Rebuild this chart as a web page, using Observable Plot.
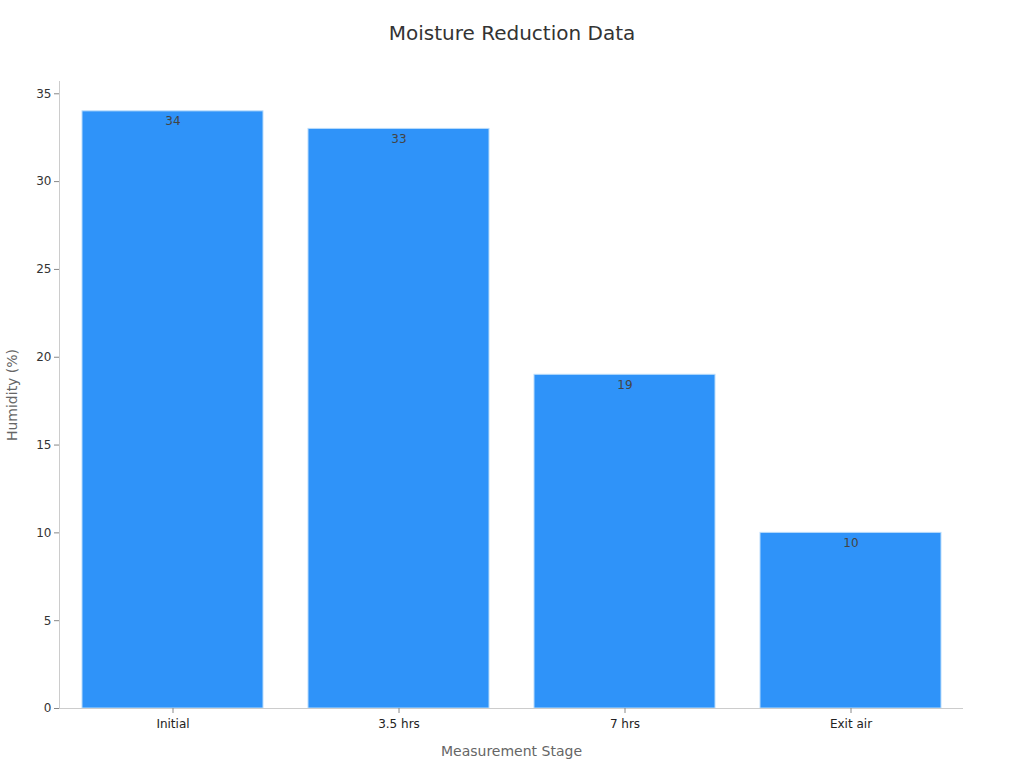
<!DOCTYPE html>
<html>
<head>
<meta charset="utf-8">
<script src="https://cdn.jsdelivr.net/npm/d3@7"></script>
<script src="https://cdn.jsdelivr.net/npm/@observablehq/plot@0.6"></script>
<style>
  html, body { margin: 0; padding: 0; background: #fff; }
  body { width: 1024px; height: 768px; overflow: hidden; font-family: "DejaVu Sans", sans-serif; }
  #title { height: 66px; line-height: 66px; text-align: center; font-size: 20px; color: #333; }
</style>
</head>
<body>
<div id="title">Moisture Reduction Data</div>
<div id="chart"></div>
<script>
const stages = ["Initial", "3.5 hrs", "7 hrs", "Exit air"];
const humidity = [34, 33, 19, 10];
const yTicks = [0, 5, 10, 15, 20, 25, 30, 35];

const data = stages.map((s, i) => ({stage: s, value: humidity[i]}));

const chart = Plot.plot({
  width: 1024,
  height: 702,
  marginTop: 15,
  marginBottom: 60,
  marginLeft: 59,
  marginRight: 61,
  style: {fontFamily: "DejaVu Sans, sans-serif", fontSize: "12px", color: "#333", background: "#fff"},
  x: {domain: stages, paddingInner: 0.2, paddingOuter: 0.1, label: null},
  y: {domain: [0, 35.7], ticks: yTicks, label: null},
  marks: [
    Plot.frame({anchor: "left", stroke: "#ccc"}),
    Plot.barY(data, {x: "stage", y: "value", fill: "#2f93f9", stroke: "#b9dcfb", strokeWidth: 1}),
    Plot.ruleY([0], {stroke: "#ccc"}),
    Plot.text(data, {x: "stage", y: "value", text: d => String(d.value), dy: 10, fill: "#444", fontSize: 12}),
    Plot.axisY({ticks: yTicks, tickSize: 5, tickPadding: 3, stroke: "#888", fill: "#333", label: null}),
    Plot.axisX({tickSize: 5, tickPadding: 6, stroke: "#888", fill: "#222", label: null}),
    Plot.text(["Humidity (%)"], {frameAnchor: "left", textAnchor: "middle", dx: -47, rotate: -90, fill: "#666", fontSize: 14}),
    Plot.text(["Measurement Stage"], {frameAnchor: "bottom", dy: 47, fill: "#666", fontSize: 14})
  ]
});
document.getElementById("chart").appendChild(chart);
</script>
</body>
</html>
